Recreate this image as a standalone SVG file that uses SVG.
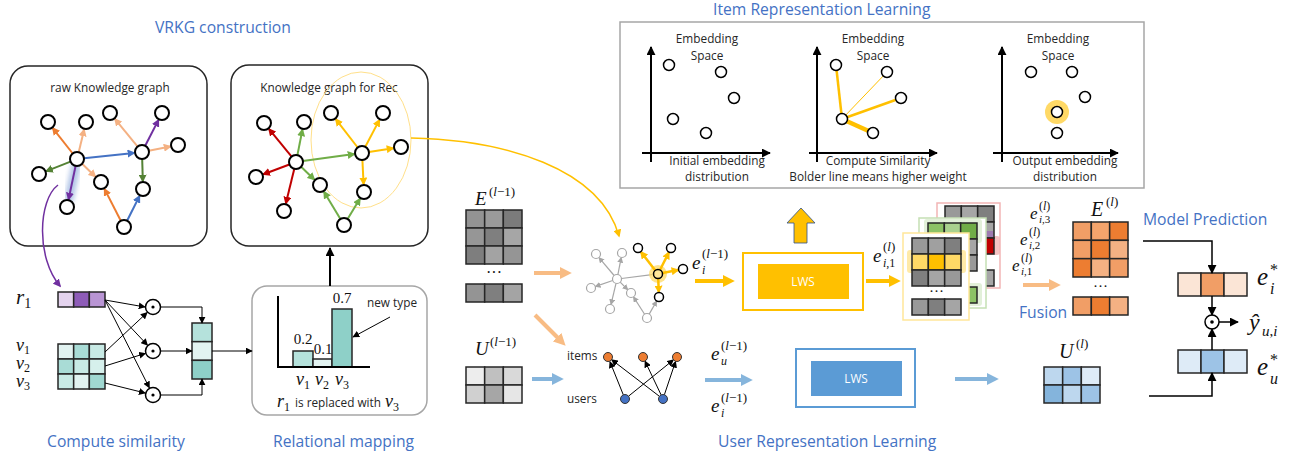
<svg xmlns="http://www.w3.org/2000/svg" width="1304" height="456" viewBox="0 0 1304 456">
<style>
.t{font-family:"Open Sans","Liberation Sans",sans-serif;fill:#262626;font-size:11.8px}
.h{font-family:"Open Sans","Liberation Sans",sans-serif;font-size:15.7px;fill:#4472C4}
.m{font-family:"Liberation Serif","DejaVu Serif",serif;fill:#111}
.it{font-style:italic}
.box{fill:#fff;stroke:#262626;stroke-width:1.5}
.nd{fill:#fff;stroke:#000;stroke-width:2}
.gn{fill:#fff;stroke:#A6A6A6;stroke-width:1.2}
.sn{fill:#fff;stroke:#000;stroke-width:1.5}
.cell{stroke:#262626;stroke-width:1.5}
.kl{fill:none;stroke-width:2}
.thin{fill:none;stroke:#000;stroke-width:1}
.med{fill:none;stroke:#000;stroke-width:1.5}
</style>
<defs>
<marker id="aK" viewBox="0 0 10 10" refX="9" refY="5" markerWidth="7" markerHeight="7" markerUnits="userSpaceOnUse" orient="auto"><path d="M0,0 L10,5 L0,10 z" fill="#000"/></marker>
<marker id="aK2" viewBox="0 0 10 10" refX="9" refY="5" markerWidth="9" markerHeight="9" markerUnits="userSpaceOnUse" orient="auto"><path d="M0,0 L10,5 L0,10 z" fill="#000"/></marker>
<marker id="aO" viewBox="0 0 10 10" refX="8" refY="5" markerWidth="8" markerHeight="8" markerUnits="userSpaceOnUse" orient="auto"><path d="M0,0 L10,5 L0,10 z" fill="#ED7D31"/></marker>
<marker id="aL" viewBox="0 0 10 10" refX="8" refY="5" markerWidth="8" markerHeight="8" markerUnits="userSpaceOnUse" orient="auto"><path d="M0,0 L10,5 L0,10 z" fill="#F4B183"/></marker>
<marker id="aG" viewBox="0 0 10 10" refX="8" refY="5" markerWidth="8" markerHeight="8" markerUnits="userSpaceOnUse" orient="auto"><path d="M0,0 L10,5 L0,10 z" fill="#548235"/></marker>
<marker id="aG2" viewBox="0 0 10 10" refX="8" refY="5" markerWidth="8" markerHeight="8" markerUnits="userSpaceOnUse" orient="auto"><path d="M0,0 L10,5 L0,10 z" fill="#70AD47"/></marker>
<marker id="aB" viewBox="0 0 10 10" refX="8" refY="5" markerWidth="8" markerHeight="8" markerUnits="userSpaceOnUse" orient="auto"><path d="M0,0 L10,5 L0,10 z" fill="#4472C4"/></marker>
<marker id="aP" viewBox="0 0 10 10" refX="8" refY="5" markerWidth="8" markerHeight="8" markerUnits="userSpaceOnUse" orient="auto"><path d="M0,0 L10,5 L0,10 z" fill="#7030A0"/></marker>
<marker id="aR" viewBox="0 0 10 10" refX="8" refY="5" markerWidth="8" markerHeight="8" markerUnits="userSpaceOnUse" orient="auto"><path d="M0,0 L10,5 L0,10 z" fill="#C00000"/></marker>
<marker id="aY" viewBox="0 0 10 10" refX="8" refY="5" markerWidth="8" markerHeight="8" markerUnits="userSpaceOnUse" orient="auto"><path d="M0,0 L10,5 L0,10 z" fill="#FFC000"/></marker>
<marker id="aGr" viewBox="0 0 10 10" refX="8" refY="5" markerWidth="6" markerHeight="6" markerUnits="userSpaceOnUse" orient="auto"><path d="M0,0 L10,5 L0,10 z" fill="#A6A6A6"/></marker>
<marker id="tO" viewBox="0 0 10 10" refX="1" refY="5" markerWidth="3" markerHeight="3" orient="auto"><path d="M0,0 L10,5 L0,10 z" fill="#F8BC84"/></marker>
<marker id="tY" viewBox="0 0 10 10" refX="1" refY="5" markerWidth="3" markerHeight="3" orient="auto"><path d="M0,0 L10,5 L0,10 z" fill="#FFC000"/></marker>
<marker id="tB" viewBox="0 0 10 10" refX="1" refY="5" markerWidth="3" markerHeight="3" orient="auto"><path d="M0,0 L10,5 L0,10 z" fill="#86B5DC"/></marker>
<filter id="blur" x="-50%" y="-50%" width="200%" height="200%"><feGaussianBlur stdDeviation="2.5"/></filter>
</defs>

<g id="titles">
<text class="h" x="155" y="33">VRKG construction</text>
<text class="h" x="47" y="447">Compute similarity</text>
<text class="h" x="273" y="447">Relational mapping</text>
<text class="h" x="713" y="15">Item Representation Learning</text>
<text class="h" x="718" y="447">User Representation Learning</text>
<text class="h" x="1019" y="318">Fusion</text>
<text class="h" x="1143" y="225">Model Prediction</text>
</g>

<!-- raw knowledge graph -->
<g id="raw-kg">
<rect class="box" x="10" y="66" width="197" height="180" rx="18"/>
<text class="t" x="110" y="92" text-anchor="middle">raw Knowledge graph</text>
<line x1="76" y1="166" x2="69" y2="199" stroke="#9DB5E0" stroke-width="9" stroke-linecap="round" filter="url(#blur)" opacity="0.8"/>
<line class="kl" x1="72.7" y1="153.5" x2="52.9" y2="128.3" stroke="#ED7D31" marker-end="url(#aO)"/>
<line class="kl" x1="78.7" y1="152.2" x2="84.1" y2="129.8" stroke="#F4B183" marker-end="url(#aL)"/>
<line class="kl" x1="70.5" y1="161.6" x2="46.4" y2="171.1" stroke="#548235" marker-end="url(#aG)"/>
<line class="kl" x1="84" y1="158.3" x2="134" y2="152.9" stroke="#4472C4" marker-end="url(#aB)"/>
<line class="kl" x1="82.1" y1="163.8" x2="95.2" y2="176.5" stroke="#F4B183" marker-end="url(#aL)"/>
<line class="kl" x1="75.6" y1="165.9" x2="68.6" y2="199.2" stroke="#7030A0" marker-end="url(#aP)"/>
<line class="kl" x1="137.6" y1="146.6" x2="115.1" y2="119.2" stroke="#F4B183" marker-end="url(#aL)"/>
<line class="kl" x1="145.2" y1="145.8" x2="158.4" y2="120.1" stroke="#7030A0" marker-end="url(#aP)"/>
<line class="kl" x1="148.9" y1="150.7" x2="170.2" y2="146.5" stroke="#F4B183" marker-end="url(#aL)"/>
<line class="kl" x1="142.2" y1="159" x2="142.8" y2="181" stroke="#548235" marker-end="url(#aG)"/>
<line class="kl" x1="120.8" y1="220.8" x2="104.6" y2="189.1" stroke="#ED7D31" marker-end="url(#aO)"/>
<line class="kl" x1="127.1" y1="220.7" x2="139.4" y2="196.2" stroke="#4472C4" marker-end="url(#aB)"/>
<circle class="nd" cx="48" cy="122" r="7"/>
<circle class="nd" cx="86" cy="122" r="7"/>
<circle class="nd" cx="110" cy="113" r="7"/>
<circle class="nd" cx="162" cy="113" r="7"/>
<circle class="nd" cx="178" cy="145" r="7"/>
<circle class="nd" cx="142" cy="152" r="7"/>
<circle class="nd" cx="77" cy="159" r="7"/>
<circle class="nd" cx="39" cy="174" r="7"/>
<circle class="nd" cx="101" cy="182" r="7"/>
<circle class="nd" cx="143" cy="189" r="7"/>
<circle class="nd" cx="67" cy="207" r="7"/>
<circle class="nd" cx="124" cy="227" r="7"/>
</g>

<!-- knowledge graph for rec -->
<g id="rec-kg">
<rect class="box" x="231" y="65" width="197" height="181" rx="18"/>
<text class="t" x="329" y="92" text-anchor="middle">Knowledge graph for Rec</text>
<ellipse cx="361" cy="140" rx="50" ry="68" fill="none" stroke="#FFE08A" stroke-width="1"/>
<line class="kl" x1="291.6" y1="156.6" x2="269.1" y2="129.2" stroke="#C00000" marker-end="url(#aR)"/>
<line class="kl" x1="297.4" y1="155.1" x2="302.4" y2="129.8" stroke="#70AD47" marker-end="url(#aG2)"/>
<line class="kl" x1="289.4" y1="164.5" x2="263.5" y2="174.2" stroke="#C00000" marker-end="url(#aR)"/>
<line class="kl" x1="294.3" y1="168.8" x2="285.9" y2="203.2" stroke="#C00000" marker-end="url(#aR)"/>
<line class="kl" x1="302.9" y1="161.1" x2="354.1" y2="154.1" stroke="#70AD47" marker-end="url(#aG2)"/>
<line class="kl" x1="301.1" y1="166.8" x2="314.2" y2="179.5" stroke="#70AD47" marker-end="url(#aG2)"/>
<line class="kl" x1="357.7" y1="147.5" x2="335.9" y2="119.3" stroke="#FFC000" marker-end="url(#aY)"/>
<line class="kl" x1="365.3" y1="146.8" x2="379.3" y2="120.1" stroke="#FFC000" marker-end="url(#aY)"/>
<line class="kl" x1="368.9" y1="151.9" x2="393.1" y2="148.2" stroke="#FFC000" marker-end="url(#aY)"/>
<line class="kl" x1="362.4" y1="160" x2="363.6" y2="184" stroke="#FFC000" marker-end="url(#aY)"/>
<line class="kl" x1="340.4" y1="219" x2="324.1" y2="191.9" stroke="#70AD47" marker-end="url(#aG2)"/>
<line class="kl" x1="347.6" y1="219" x2="359.9" y2="198.8" stroke="#70AD47" marker-end="url(#aG2)"/>
<circle class="nd" cx="264" cy="123" r="7"/>
<circle class="nd" cx="304" cy="122" r="7"/>
<circle class="nd" cx="331" cy="113" r="7"/>
<circle class="nd" cx="383" cy="113" r="7"/>
<circle class="nd" cx="401" cy="147" r="7"/>
<circle class="nd" cx="362" cy="153" r="7"/>
<circle class="nd" cx="296" cy="162" r="7"/>
<circle class="nd" cx="256" cy="177" r="7"/>
<circle class="nd" cx="320" cy="185" r="7"/>
<circle class="nd" cx="364" cy="192" r="7"/>
<circle class="nd" cx="284" cy="211" r="7"/>
<circle class="nd" cx="344" cy="225" r="7"/>
</g>

<!-- compute similarity -->
<g id="similarity">
<text class="m it" x="16" y="304" font-size="21">r<tspan font-style="normal" font-size="14" dy="4">1</tspan></text>
<rect class="cell" x="58" y="292" width="15.67" height="15" fill="#E4D3EE"/>
<rect class="cell" x="73.67" y="292" width="15.67" height="15" fill="#8E5CB8"/>
<rect class="cell" x="89.33" y="292" width="15.67" height="15" fill="#B995D4"/>
<text class="m it" x="16" y="351" font-size="18">v<tspan font-style="normal" font-size="12" dy="3">1</tspan></text>
<text class="m it" x="16" y="369" font-size="18">v<tspan font-style="normal" font-size="12" dy="3">2</tspan></text>
<text class="m it" x="16" y="387" font-size="18">v<tspan font-style="normal" font-size="12" dy="3">3</tspan></text>
<rect class="cell" x="58" y="344" width="15.67" height="15" fill="#E2F3F1"/>
<rect class="cell" x="73.67" y="344" width="15.67" height="15" fill="#A9DCD6"/>
<rect class="cell" x="89.33" y="344" width="15.67" height="15" fill="#C8EAE5"/>
<rect class="cell" x="58" y="359" width="15.67" height="15" fill="#A9DCD6"/>
<rect class="cell" x="73.67" y="359" width="15.67" height="15" fill="#C8EAE5"/>
<rect class="cell" x="89.33" y="359" width="15.67" height="15" fill="#D6F0EC"/>
<rect class="cell" x="58" y="374" width="15.67" height="15" fill="#C8EAE5"/>
<rect class="cell" x="73.67" y="374" width="15.67" height="15" fill="#E2F3F1"/>
<rect class="cell" x="89.33" y="374" width="15.67" height="15" fill="#A0D8D1"/>
<g id="dot1"><circle class="sn" cx="153" cy="307" r="7.5" stroke-width="1.2"/><circle cx="153" cy="307" r="1.6" fill="#000"/></g>
<g id="dot2"><circle class="sn" cx="153" cy="351" r="7.5" stroke-width="1.2"/><circle cx="153" cy="351" r="1.6" fill="#000"/></g>
<g id="dot3"><circle class="sn" cx="153" cy="395" r="7.5" stroke-width="1.2"/><circle cx="153" cy="395" r="1.6" fill="#000"/></g>
<rect class="cell" x="192" y="323" width="20" height="18.67" fill="#B5E2DC"/>
<rect class="cell" x="192" y="341.67" width="20" height="18.67" fill="#E2F3F1"/>
<rect class="cell" x="192" y="360.33" width="20" height="18.67" fill="#8ED0C8"/>
</g>

<!-- relational mapping -->
<g id="relational">
<rect x="252" y="286" width="175" height="129" rx="15" fill="#fff" stroke="#A6A6A6" stroke-width="1.5"/>
<rect class="cell" x="293" y="351" width="20" height="16" fill="#B5E2DC" stroke-width="1.2"/>
<rect class="cell" x="313" y="359" width="19" height="8" fill="#E2F3F1" stroke-width="1.2"/>
<rect class="cell" x="332" y="309" width="20" height="58" fill="#8ED0C8" stroke-width="1.2"/>
<polyline points="278,296 278,367 370,367" fill="none" stroke="#000" stroke-width="2"/>
<text class="m" x="303" y="344" font-size="15" text-anchor="middle">0.2</text>
<text class="m" x="323" y="354" font-size="15" text-anchor="middle">0.1</text>
<text class="m" x="342" y="303" font-size="15" text-anchor="middle">0.7</text>
<text class="t" x="367" y="307" font-size="12">new type</text>
<line class="thin" x1="390" y1="317" x2="353" y2="337" marker-end="url(#aK)"/>
<text class="m it" x="303" y="385" font-size="18" text-anchor="middle">v<tspan font-style="normal" font-size="12" dy="4">1</tspan></text>
<text class="m it" x="322" y="385" font-size="18" text-anchor="middle">v<tspan font-style="normal" font-size="12" dy="4">2</tspan></text>
<text class="m it" x="342" y="385" font-size="18" text-anchor="middle">v<tspan font-style="normal" font-size="12" dy="4">3</tspan></text>
<text class="m it" x="277" y="407" font-size="18">r<tspan font-style="normal" font-size="12" dy="4">1</tspan></text>
<text class="t" x="295" y="407">is replaced with</text>
<text class="m it" x="385" y="407" font-size="18">v<tspan font-style="normal" font-size="12" dy="4">3</tspan></text>
</g>

<!-- middle: E, U matrices -->
<g id="E-prev">
<text class="m it" x="475" y="205" font-size="19">E</text>
<text class="m" x="489" y="196" font-size="13">(<tspan font-style="italic">l</tspan>−1)</text>
<rect class="cell" x="466" y="210" width="18.67" height="18" fill="#939393"/>
<rect class="cell" x="484.67" y="210" width="18.67" height="18" fill="#9A9A9A"/>
<rect class="cell" x="503.33" y="210" width="18.67" height="18" fill="#7B7B7B"/>
<rect class="cell" x="466" y="228" width="18.67" height="18" fill="#969696"/>
<rect class="cell" x="484.67" y="228" width="18.67" height="18" fill="#7F7F7F"/>
<rect class="cell" x="503.33" y="228" width="18.67" height="18" fill="#A6A6A6"/>
<rect class="cell" x="466" y="246" width="18.67" height="18" fill="#7E7E7E"/>
<rect class="cell" x="484.67" y="246" width="18.67" height="18" fill="#A3A3A3"/>
<rect class="cell" x="503.33" y="246" width="18.67" height="18" fill="#959595"/>
<text class="m" x="494" y="278" font-size="16" text-anchor="middle">···</text>
<rect class="cell" x="466" y="284" width="18.67" height="18" fill="#949494"/>
<rect class="cell" x="484.67" y="284" width="18.67" height="18" fill="#7F7F7F"/>
<rect class="cell" x="503.33" y="284" width="18.67" height="18" fill="#A4A4A4"/>
</g>
<g id="U-prev">
<text class="m it" x="475" y="355" font-size="19">U</text>
<text class="m" x="490" y="346" font-size="13">(<tspan font-style="italic">l</tspan>−1)</text>
<rect class="cell" x="466" y="367" width="18.67" height="18" fill="#EDEDED"/>
<rect class="cell" x="484.67" y="367" width="18.67" height="18" fill="#C0C0C0"/>
<rect class="cell" x="503.33" y="367" width="18.67" height="18" fill="#D9D9D9"/>
<rect class="cell" x="466" y="385" width="18.67" height="18" fill="#D0D0D0"/>
<rect class="cell" x="484.67" y="385" width="18.67" height="18" fill="#A6A6A6"/>
<rect class="cell" x="503.33" y="385" width="18.67" height="18" fill="#E6E6E6"/>
</g>

<!-- small gray graph -->
<g id="item-graph">
<line x1="614.1" y1="275.5" x2="599.2" y2="257.8" stroke="#A6A6A6" stroke-width="1.2" marker-end="url(#aGr)"/>
<line x1="617.9" y1="274.6" x2="621.1" y2="257.9" stroke="#A6A6A6" stroke-width="1.2" marker-end="url(#aGr)"/>
<line x1="612.7" y1="280.5" x2="595.7" y2="286.4" stroke="#A6A6A6" stroke-width="1.2" marker-end="url(#aGr)"/>
<line x1="616" y1="283.4" x2="611.1" y2="304.1" stroke="#A6A6A6" stroke-width="1.2" marker-end="url(#aGr)"/>
<line x1="620.2" y1="282.2" x2="627.5" y2="289.5" stroke="#A6A6A6" stroke-width="1.2" marker-end="url(#aGr)"/>
<line x1="621.5" y1="278.5" x2="652" y2="274.7" stroke="#A6A6A6" stroke-width="1.2"/>
<line x1="644.6" y1="314.2" x2="633.7" y2="297.2" stroke="#A6A6A6" stroke-width="1.2" marker-end="url(#aGr)"/>
<line x1="649.2" y1="314.1" x2="656.5" y2="301.3" stroke="#A6A6A6" stroke-width="1.2" marker-end="url(#aGr)"/>
<circle cx="658" cy="274" r="9" fill="#FFD966" opacity="0.75"/>
<line x1="655.3" y1="270.4" x2="641" y2="252" stroke="#FFC000" stroke-width="2.5" marker-end="url(#aY)"/>
<line x1="660" y1="270" x2="668.8" y2="252.5" stroke="#FFC000" stroke-width="2.5" marker-end="url(#aY)"/>
<line x1="662.4" y1="273.1" x2="678" y2="270" stroke="#FFC000" stroke-width="2.5" marker-end="url(#aY)"/>
<line x1="658.2" y1="278.5" x2="658.8" y2="292" stroke="#FFC000" stroke-width="2.5" marker-end="url(#aY)"/>
<circle class="gn" cx="617" cy="279" r="4.5"/>
<circle class="gn" cx="596" cy="254" r="4.5"/>
<circle class="gn" cx="622" cy="253" r="4.5"/>
<circle class="gn" cx="591" cy="288" r="4.5"/>
<circle class="gn" cx="610" cy="309" r="4.5"/>
<circle class="gn" cx="631" cy="293" r="4.5"/>
<circle class="gn" cx="647" cy="318" r="4.5"/>
<circle cx="658" cy="274" r="4.5" fill="#FFE699" stroke="#000" stroke-width="1.5"/>
<circle class="sn" cx="638" cy="248" r="4.5"/>
<circle class="sn" cx="671" cy="248" r="4.5"/>
<circle class="sn" cx="683" cy="269" r="4.5"/>
<circle class="sn" cx="659" cy="297" r="4.5"/>
</g>

<!-- bipartite user-item graph -->
<g id="user-graph">
<text class="t" x="567" y="360" font-size="12">items</text>
<text class="t" x="567" y="403" font-size="12">users</text>
<line class="thin" x1="623.3" y1="394.8" x2="609.9" y2="361.6" marker-end="url(#aK)"/>
<line class="thin" x1="628.5" y1="396.2" x2="673.5" y2="359.8" marker-end="url(#aK)"/>
<line class="thin" x1="659.4" y1="396.3" x2="611.6" y2="359.7" marker-end="url(#aK)"/>
<line class="thin" x1="661.1" y1="394.9" x2="645" y2="361.1" marker-end="url(#aK)"/>
<line class="thin" x1="664.4" y1="394.7" x2="675.6" y2="361.3" marker-end="url(#aK)"/>
<circle cx="608" cy="357" r="4.5" fill="#ED7D31" stroke="#333" stroke-width="1"/>
<circle cx="643" cy="357" r="4.5" fill="#ED7D31" stroke="#333" stroke-width="1"/>
<circle cx="677" cy="357" r="4.5" fill="#ED7D31" stroke="#333" stroke-width="1"/>
<circle cx="625" cy="399" r="4.5" fill="#4472C4" stroke="#333" stroke-width="1"/>
<circle cx="663" cy="399" r="4.5" fill="#4472C4" stroke="#333" stroke-width="1"/>
</g>

<!-- item representation learning box -->
<g id="item-rep">
<rect x="620" y="22" width="524" height="166" fill="#fff" stroke="#A6A6A6" stroke-width="1.5"/>
<g id="panel1">
<line x1="651" y1="162" x2="651" y2="47" stroke="#000" stroke-width="2" marker-end="url(#aK2)"/>
<line x1="642" y1="153" x2="770" y2="153" stroke="#000" stroke-width="2" marker-end="url(#aK2)"/>
<text class="t" x="707" y="43" text-anchor="middle">Embedding</text>
<text class="t" x="707" y="60" text-anchor="middle">Space</text>
<circle class="sn" cx="669" cy="65" r="5.5"/>
<circle class="sn" cx="721" cy="72" r="5.5"/>
<circle class="sn" cx="734" cy="98" r="5.5"/>
<circle class="sn" cx="673" cy="119" r="5.5" fill="#FFE699"/>
<circle class="sn" cx="706" cy="133" r="5.5"/>
<text class="t" x="717" y="165" text-anchor="middle">Initial embedding</text>
<text class="t" x="717" y="181" text-anchor="middle">distribution</text>
</g>
<g id="panel2">
<line x1="817" y1="162" x2="817" y2="47" stroke="#000" stroke-width="2" marker-end="url(#aK2)"/>
<line x1="809" y1="153" x2="937" y2="153" stroke="#000" stroke-width="2" marker-end="url(#aK2)"/>
<text class="t" x="873" y="43" text-anchor="middle">Embedding</text>
<text class="t" x="873" y="60" text-anchor="middle">Space</text>
<line x1="842" y1="119" x2="836" y2="65" stroke="#FFC000" stroke-width="2.5"/>
<line x1="842" y1="119" x2="887" y2="72" stroke="#FFC000" stroke-width="1"/>
<line x1="842" y1="119" x2="901" y2="98" stroke="#FFC000" stroke-width="2.5"/>
<line x1="842" y1="119" x2="873" y2="133" stroke="#FFC000" stroke-width="4.5"/>
<circle class="sn" cx="836" cy="65" r="5.5"/>
<circle class="sn" cx="887" cy="72" r="5.5"/>
<circle class="sn" cx="901" cy="98" r="5.5"/>
<circle class="sn" cx="842" cy="119" r="5.5" fill="#FFE699"/>
<circle class="sn" cx="873" cy="133" r="5.5"/>
<text class="t" x="878" y="165" text-anchor="middle">Compute Similarity</text>
<text class="t" x="878" y="181" text-anchor="middle">Bolder line means higher weight</text>
</g>
<g id="panel3">
<line x1="1002" y1="162" x2="1002" y2="47" stroke="#000" stroke-width="2" marker-end="url(#aK2)"/>
<line x1="993" y1="153" x2="1118" y2="153" stroke="#000" stroke-width="2" marker-end="url(#aK2)"/>
<text class="t" x="1058" y="43" text-anchor="middle">Embedding</text>
<text class="t" x="1058" y="60" text-anchor="middle">Space</text>
<circle class="sn" cx="1031" cy="72" r="5.5"/>
<circle class="sn" cx="1072" cy="72" r="5.5"/>
<circle class="sn" cx="1085" cy="97" r="5.5"/>
<circle cx="1057" cy="112" r="12" fill="#FFD966"/>
<circle class="sn" cx="1057" cy="112" r="5.5" fill="#FFE699"/>
<circle class="sn" cx="1057" cy="133" r="5.5"/>
<text class="t" x="1065" y="165" text-anchor="middle">Output embedding</text>
<text class="t" x="1065" y="181" text-anchor="middle">distribution</text>
</g>
</g>

<!-- LWS blocks -->
<g id="lws-item">
<rect x="743" y="253" width="120" height="57" fill="#fff" stroke="#FFC000" stroke-width="2"/>
<rect x="758" y="264" width="91" height="35" fill="#FFC000"/>
<text class="t" x="803" y="286" font-size="12" text-anchor="middle" style="fill:#fff">LWS</text>
<polygon points="794,243 807,243 807,223 815,223 801,208 787,223 794,223" fill="#FFC000" stroke="#2F528F" stroke-width="0.8"/>
</g>
<g id="lws-user">
<rect x="796" y="349" width="119" height="58" fill="#fff" stroke="#5B9BD5" stroke-width="2"/>
<rect x="811" y="361" width="91" height="35" fill="#5B9BD5"/>
<text class="t" x="856" y="383" font-size="12" text-anchor="middle" style="fill:#fff">LWS</text>
</g>

<!-- edge labels -->
<g id="labels">
<text class="m it" x="692" y="269" font-size="19">e</text>
<text class="m it" x="702" y="274" font-size="12">i</text>
<text class="m" x="702" y="258" font-size="13">(<tspan font-style="italic">l</tspan>−1)</text>
<text class="m it" x="873" y="262" font-size="19">e</text>
<text class="m it" x="883" y="267" font-size="12">i<tspan font-style="normal">,1</tspan></text>
<text class="m" x="883" y="251" font-size="13">(<tspan font-style="italic">l</tspan>)</text>
<text class="m it" x="711" y="360" font-size="19">e</text>
<text class="m it" x="721" y="365" font-size="12">u</text>
<text class="m" x="721" y="350" font-size="13">(<tspan font-style="italic">l</tspan>−1)</text>
<text class="m it" x="711" y="412" font-size="19">e</text>
<text class="m it" x="721" y="417" font-size="12">i</text>
<text class="m" x="721" y="402" font-size="13">(<tspan font-style="italic">l</tspan>−1)</text>
<text class="m it" x="1030" y="219" font-size="17">e</text>
<text class="m it" x="1039" y="223" font-size="11">i<tspan font-style="normal">,3</tspan></text>
<text class="m" x="1039" y="210" font-size="12">(<tspan font-style="italic">l</tspan>)</text>
<text class="m it" x="1020" y="245" font-size="17">e</text>
<text class="m it" x="1029" y="249" font-size="11">i<tspan font-style="normal">,2</tspan></text>
<text class="m" x="1029" y="236" font-size="12">(<tspan font-style="italic">l</tspan>)</text>
<text class="m it" x="1012" y="271" font-size="17">e</text>
<text class="m it" x="1021" y="275" font-size="11">i<tspan font-style="normal">,1</tspan></text>
<text class="m" x="1021" y="262" font-size="12">(<tspan font-style="italic">l</tspan>)</text>
</g>

<!-- stacked output matrices -->
<g id="stack">
<g id="card-red">
<rect x="937" y="203" width="63" height="85" fill="#fff" stroke="#F2B5B5" stroke-width="1.5"/>
<rect x="942" y="236" width="58" height="19" rx="3" fill="#F2B5B5" opacity="0.8"/>
<rect class="cell" x="945" y="206" width="16.33" height="16" fill="#999"/>
<rect class="cell" x="961.33" y="206" width="16.33" height="16" fill="#A6A6A6"/>
<rect class="cell" x="977.67" y="206" width="16.33" height="16" fill="#7F7F7F"/>
<rect class="cell" x="945" y="222" width="16.33" height="16" fill="#8F8F8F"/>
<rect class="cell" x="961.33" y="222" width="16.33" height="16" fill="#A0A0A0"/>
<rect class="cell" x="977.67" y="222" width="16.33" height="16" fill="#A6A6A6"/>
<rect x="986" y="231" width="7" height="6" fill="#9E7BB0"/>
<rect class="cell" x="945" y="238" width="16.33" height="16" fill="#999"/>
<rect class="cell" x="961.33" y="238" width="16.33" height="16" fill="#888"/>
<rect class="cell" x="977.67" y="238" width="16.33" height="16" fill="#C00000"/>
<rect class="cell" x="945" y="270" width="16.33" height="16" fill="#999"/>
<rect class="cell" x="961.33" y="270" width="16.33" height="16" fill="#888"/>
<rect class="cell" x="977.67" y="270" width="16.33" height="16" fill="#A6A6A6"/>
</g>
<g id="card-green">
<rect x="919" y="218" width="67" height="90" fill="#fff" stroke="#C5E0B4" stroke-width="1.5"/>
<rect x="924" y="219" width="58" height="24" rx="3" fill="#E2F0D9"/>
<rect x="924" y="283" width="58" height="23" rx="3" fill="#E2F0D9"/>
<rect class="cell" x="928" y="223" width="16.33" height="16" fill="#8CC266"/>
<rect class="cell" x="944.33" y="223" width="16.33" height="16" fill="#A9D18E"/>
<rect class="cell" x="960.67" y="223" width="16.33" height="16" fill="#70AD47"/>
<rect class="cell" x="928" y="239" width="16.33" height="16" fill="#999"/>
<rect class="cell" x="944.33" y="239" width="16.33" height="16" fill="#888"/>
<rect class="cell" x="960.67" y="239" width="16.33" height="16" fill="#A6A6A6"/>
<rect class="cell" x="928" y="255" width="16.33" height="16" fill="#888"/>
<rect class="cell" x="944.33" y="255" width="16.33" height="16" fill="#A6A6A6"/>
<rect class="cell" x="960.67" y="255" width="16.33" height="16" fill="#999"/>
<rect class="cell" x="928" y="287" width="16.33" height="16" fill="#999"/>
<rect class="cell" x="944.33" y="287" width="16.33" height="16" fill="#888"/>
<rect class="cell" x="960.67" y="287" width="16.33" height="16" fill="#8CC266"/>
</g>
<g id="card-yellow">
<rect x="903" y="233" width="66" height="87" fill="#fff" stroke="#FFE699" stroke-width="1.5"/>
<rect x="907" y="250" width="59" height="23" rx="3" fill="#FFE699" opacity="0.85"/>
<rect class="cell" x="912" y="238" width="16.33" height="16" fill="#999"/>
<rect class="cell" x="928.33" y="238" width="16.33" height="16" fill="#A0A0A0"/>
<rect class="cell" x="944.67" y="238" width="16.33" height="16" fill="#7F7F7F"/>
<rect class="cell" x="912" y="254" width="16.33" height="16" fill="#FFD966"/>
<rect class="cell" x="928.33" y="254" width="16.33" height="16" fill="#FFC000"/>
<rect class="cell" x="944.67" y="254" width="16.33" height="16" fill="#FFD966"/>
<rect class="cell" x="912" y="270" width="16.33" height="16" fill="#7F7F7F"/>
<rect class="cell" x="928.33" y="270" width="16.33" height="16" fill="#A5A5A5"/>
<rect class="cell" x="944.67" y="270" width="16.33" height="16" fill="#999"/>
<text class="m" x="936.5" y="296" font-size="15" text-anchor="middle">···</text>
<rect class="cell" x="912" y="299" width="16.33" height="16" fill="#999"/>
<rect class="cell" x="928.33" y="299" width="16.33" height="16" fill="#7F7F7F"/>
<rect class="cell" x="944.67" y="299" width="16.33" height="16" fill="#A5A5A5"/>
</g>
</g>

<!-- E(l), U(l) -->
<g id="E-out">
<text class="m it" x="1091" y="216" font-size="20">E</text>
<text class="m" x="1106" y="206" font-size="13">(<tspan font-style="italic">l</tspan>)</text>
<rect class="cell" x="1073" y="222" width="18.33" height="18.33" fill="#F19E66"/>
<rect class="cell" x="1091.33" y="222" width="18.33" height="18.33" fill="#F4A46C"/>
<rect class="cell" x="1109.67" y="222" width="18.33" height="18.33" fill="#ED7D31"/>
<rect class="cell" x="1073" y="240.33" width="18.33" height="18.33" fill="#F19E66"/>
<rect class="cell" x="1091.33" y="240.33" width="18.33" height="18.33" fill="#ED7D31"/>
<rect class="cell" x="1109.67" y="240.33" width="18.33" height="18.33" fill="#F4B183"/>
<rect class="cell" x="1073" y="258.67" width="18.33" height="18.33" fill="#ED7D31"/>
<rect class="cell" x="1091.33" y="258.67" width="18.33" height="18.33" fill="#F4B183"/>
<rect class="cell" x="1109.67" y="258.67" width="18.33" height="18.33" fill="#F19E66"/>
<text class="m" x="1100.5" y="291" font-size="15" text-anchor="middle">···</text>
<rect class="cell" x="1073" y="297" width="18.33" height="18" fill="#F19E66"/>
<rect class="cell" x="1091.33" y="297" width="18.33" height="18" fill="#ED7D31"/>
<rect class="cell" x="1109.67" y="297" width="18.33" height="18" fill="#F4B183"/>
</g>
<g id="U-out">
<text class="m it" x="1059" y="358" font-size="20">U</text>
<text class="m" x="1076" y="348" font-size="13">(<tspan font-style="italic">l</tspan>)</text>
<rect class="cell" x="1044" y="367" width="18.67" height="18" fill="#BDD7EE"/>
<rect class="cell" x="1062.67" y="367" width="18.67" height="18" fill="#9DC3E6"/>
<rect class="cell" x="1081.33" y="367" width="18.67" height="18" fill="#DEEBF7"/>
<rect class="cell" x="1044" y="385" width="18.67" height="18" fill="#84B4DC"/>
<rect class="cell" x="1062.67" y="385" width="18.67" height="18" fill="#BDD7EE"/>
<rect class="cell" x="1081.33" y="385" width="18.67" height="18" fill="#9DC3E6"/>
</g>

<!-- prediction -->
<g id="prediction">
<rect class="cell" x="1178" y="273" width="23" height="23" fill="#FBE5D6"/>
<rect class="cell" x="1201" y="273" width="23" height="23" fill="#F19E66"/>
<rect class="cell" x="1224" y="273" width="23" height="23" fill="#FBE5D6"/>
<rect class="cell" x="1178" y="350" width="23" height="23" fill="#DEEBF7"/>
<rect class="cell" x="1201" y="350" width="23" height="23" fill="#9DC3E6"/>
<rect class="cell" x="1224" y="350" width="23" height="23" fill="#DEEBF7"/>
<circle class="sn" cx="1212" cy="322" r="7" stroke-width="2"/>
<circle cx="1212" cy="322" r="1.8" fill="#000"/>
<text class="m it" x="1257" y="285" font-size="25">e</text>
<text class="m" x="1270" y="275" font-size="16">*</text>
<text class="m it" x="1270" y="294" font-size="16">i</text>
<text class="m it" x="1249" y="330" font-size="24">ŷ</text>
<text class="m it" x="1262" y="336" font-size="15">u<tspan font-style="normal">,</tspan>i</text>
<text class="m it" x="1257" y="375" font-size="25">e</text>
<text class="m" x="1270" y="365" font-size="16">*</text>
<text class="m it" x="1270" y="384" font-size="16">u</text>
</g>

<!-- connectors -->
<g id="connectors">
<path d="M58,185 C38,200 36,258 60,286" fill="none" stroke="#7030A0" stroke-width="1.5" marker-end="url(#aP)"/>
<line class="thin" x1="105" y1="300" x2="145" y2="307" marker-end="url(#aK)"/>
<line class="thin" x1="105" y1="300" x2="147.5" y2="345.2" marker-end="url(#aK)"/>
<line class="thin" x1="105" y1="300" x2="149.4" y2="387.9" marker-end="url(#aK)"/>
<line class="thin" x1="105" y1="352" x2="147.2" y2="312.5" marker-end="url(#aK)"/>
<line class="thin" x1="105" y1="366" x2="145.4" y2="353.4" marker-end="url(#aK)"/>
<line class="thin" x1="105" y1="383" x2="145.2" y2="393" marker-end="url(#aK)"/>
<polyline class="thin" points="160.5,307 202,307 202,323" marker-end="url(#aK)"/>
<line class="thin" x1="160.5" y1="351" x2="192" y2="351" marker-end="url(#aK)"/>
<polyline class="thin" points="160.5,395 202,395 202,379" marker-end="url(#aK)"/>
<line class="thin" x1="212" y1="351" x2="252" y2="351" marker-end="url(#aK)"/>
<line x1="330" y1="286" x2="330" y2="248" stroke="#000" stroke-width="2" marker-end="url(#aK2)"/>
<path d="M411,138 C505,140 600,168 619,236" fill="none" stroke="#FFC000" stroke-width="1.5" marker-end="url(#aY)"/>
<line x1="534" y1="273" x2="561" y2="273" stroke="#F8BC84" stroke-width="4" marker-end="url(#tO)"/>
<line x1="535" y1="315" x2="558" y2="338" stroke="#F8BC84" stroke-width="4" marker-end="url(#tO)"/>
<line x1="532" y1="379" x2="553" y2="379" stroke="#86B5DC" stroke-width="4" marker-end="url(#tB)"/>
<line x1="695" y1="281" x2="724" y2="281" stroke="#FFC000" stroke-width="4" marker-end="url(#tY)"/>
<line x1="866" y1="281" x2="890" y2="281" stroke="#FFC000" stroke-width="4" marker-end="url(#tY)"/>
<line x1="705" y1="380" x2="742" y2="380" stroke="#86B5DC" stroke-width="4" marker-end="url(#tB)"/>
<line x1="955" y1="379" x2="988" y2="379" stroke="#86B5DC" stroke-width="4" marker-end="url(#tB)"/>
<line x1="1023" y1="285" x2="1050" y2="285" stroke="#F8BC84" stroke-width="4" marker-end="url(#tO)"/>
<polyline class="med" points="1143,241 1212,241 1212,273" marker-end="url(#aK2)"/>
<line class="med" x1="1212" y1="296" x2="1212" y2="315" marker-end="url(#aK2)"/>
<line class="med" x1="1212" y1="350" x2="1212" y2="329" marker-end="url(#aK2)"/>
<polyline class="med" points="1149,396 1212,396 1212,373" marker-end="url(#aK2)"/>
<line class="med" x1="1219" y1="322" x2="1238" y2="322" marker-end="url(#aK2)"/>
</g>
</svg>
